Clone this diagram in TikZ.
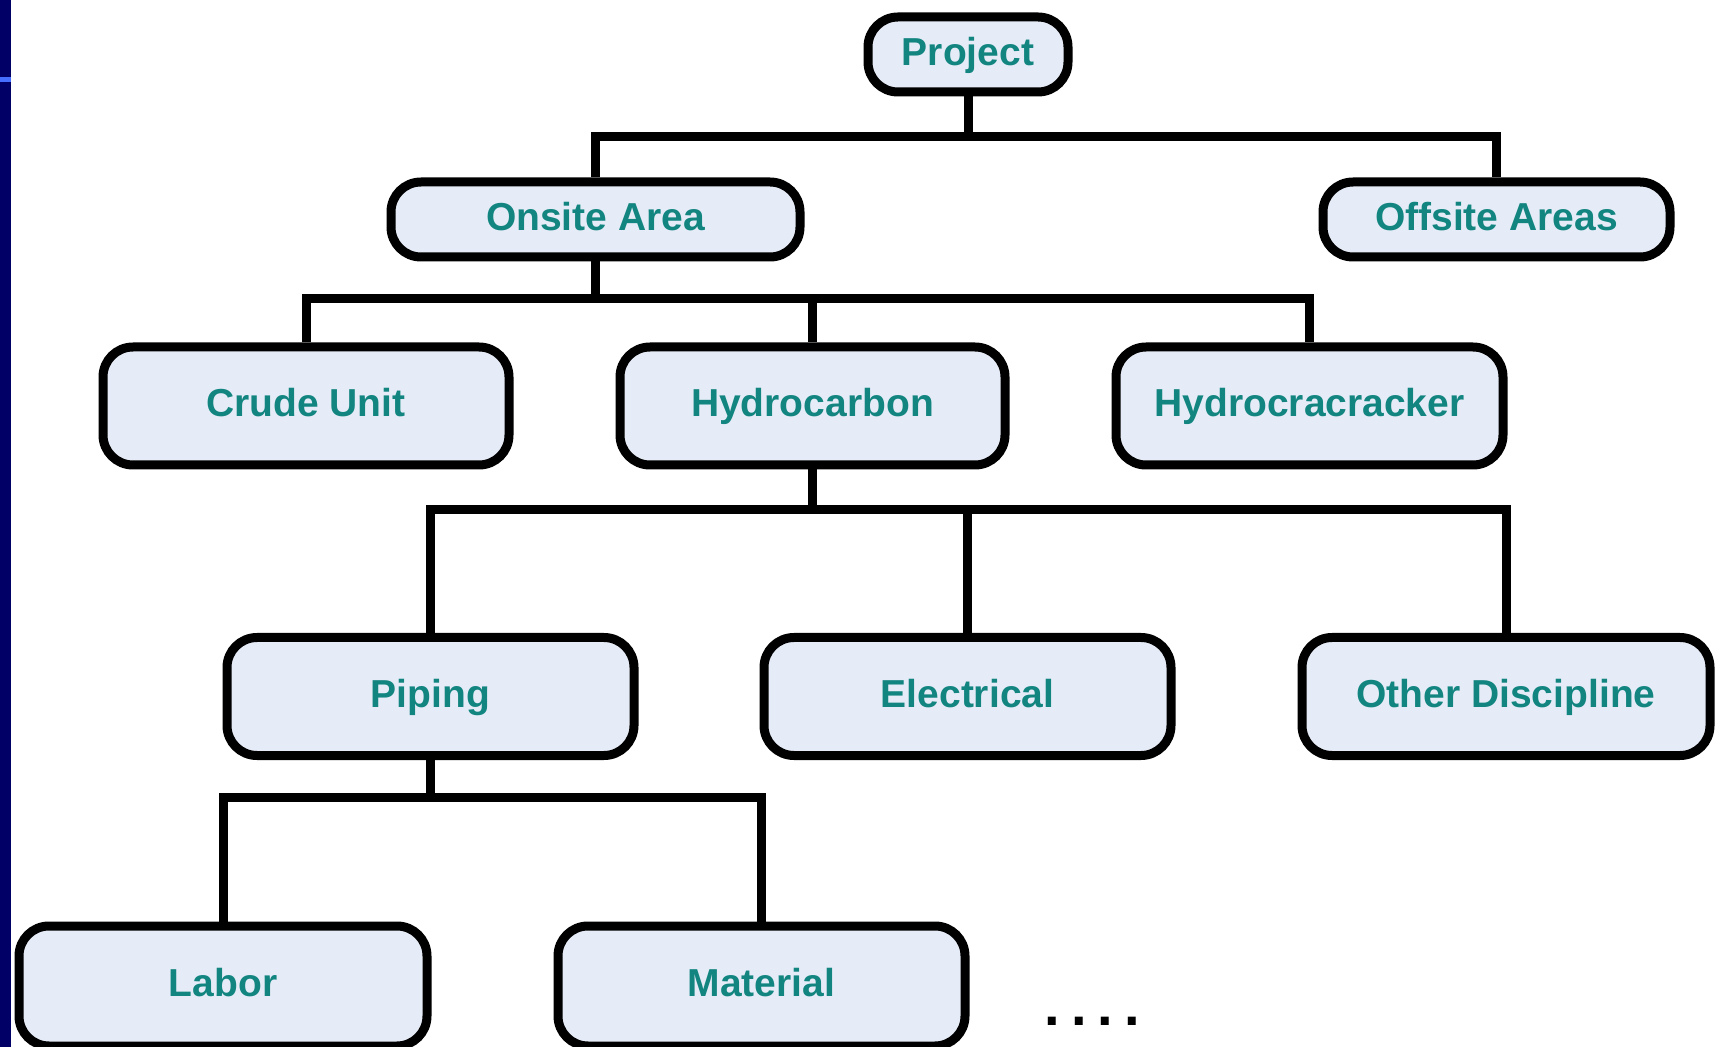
\documentclass[tikz,border=0pt]{standalone}
\usepackage{fontspec}
\setmainfont{Liberation Sans}
\definecolor{boxfill}{RGB}{230,236,247}
\definecolor{boxtext}{RGB}{18,133,128}
\definecolor{sidebar}{RGB}{0,0,102}
\definecolor{sidemark}{RGB}{70,110,255}
\tikzset{
  wbs/.style={draw,line width=4.5pt,rounded corners=15pt,fill=boxfill,text=boxtext,
    font=\fontsize{19.5}{22}\selectfont\bfseries,text height=2.3ex,text depth=0.3ex,
    minimum height=59pt},
  link/.style={line width=4.5pt}
}
\begin{document}
\begin{tikzpicture}[x=0.5pt,y=-0.5pt]
  \useasboundingbox (0,0) rectangle (1719,1047);
  % slide edge
  \fill[sidebar] (0,0) rectangle (11,1047);
  \fill[sidemark] (0,77) rectangle (11,82);

  \node (project) at (968,54.5) [wbs,minimum width=100pt,minimum height=37.5pt] {Project};
  \node (onsite) at (595.5,219.5) [wbs,minimum width=204.5pt,minimum height=37.5pt] {Onsite Area};
  \node (offsite) at (1496.5,219.5) [wbs,minimum width=173.5pt,minimum height=37.5pt] {Offsite Areas};

  \node (crude) at (306,406) [wbs,minimum width=203pt] {Crude Unit};
  \node (hydrocarbon) at (812.5,406) [wbs,minimum width=192.5pt] {Hydrocarbon};
  \node (cracker) at (1309.5,406) [wbs,minimum width=193.5pt] {Hydrocracracker};

  \node (piping) at (430.5,696.5) [wbs,minimum width=203.5pt] {Piping};
  \node (electrical) at (967.5,696.5) [wbs,minimum width=203.5pt] {Electrical};
  \node (other) at (1506,696.5) [wbs,minimum width=204pt] {Other Discipline};

  \node (labor) at (223,986) [wbs,minimum width=204pt,minimum height=60pt] {Labor};
  \node (material) at (761.5,986) [wbs,minimum width=203.5pt,minimum height=60pt] {Material};
  \node (more) at (1092.5,1025) [anchor=base,font=\fontsize{28}{30}\selectfont\bfseries]
    {.\kern5.5pt.\kern5.5pt.\kern5.5pt.};

  % bus lines
  \coordinate (bus1) at (968,137);
  \coordinate (bus2) at (595.5,299);
  \coordinate (bus3) at (812.5,510);
  \coordinate (bus4) at (430.5,797);

  \draw[link] (project.south) -- (bus1);
  \draw[link] (onsite.north) |- (bus1) -| (offsite.north);
  \draw[link] (onsite.south) -- (bus2);
  \draw[link] (crude.north) |- (bus2) -| (cracker.north);
  \draw[link] (hydrocarbon.north) -- (hydrocarbon.north |- bus2);
  \draw[link] (hydrocarbon.south) -- (bus3);
  \draw[link] (piping.north) |- (bus3) -| (other.north);
  \draw[link] (electrical.north) -- (electrical.north |- bus3);
  \draw[link] (piping.south) -- (bus4);
  \draw[link] (labor.north) |- (bus4) -| (material.north);
\end{tikzpicture}
\end{document}
